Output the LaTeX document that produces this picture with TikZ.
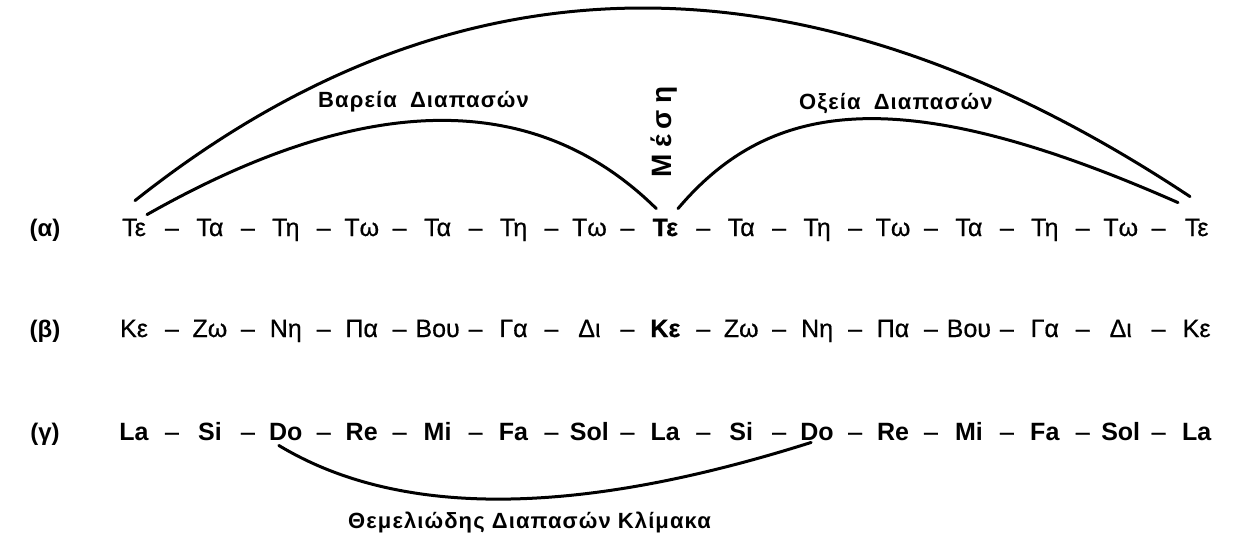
\documentclass[tikz,border=0pt]{standalone}
\usepackage{fontspec}
\setmainfont{Liberation Sans}
\newfontfamily\itemfont{Liberation Sans}[FakeBold=0.6]
\newfontfamily\labfont{Liberation Sans}[LetterSpace=5]
\newfontfamily\mesfont{Liberation Sans}[LetterSpace=22]
\begin{document}
\begin{tikzpicture}[x=1pt,y=-1pt,
  item/.style={anchor=base,inner sep=1pt,font=\fontsize{25}{27}\selectfont\itemfont},
  bitem/.style={item,font=\fontsize{25}{27}\selectfont\bfseries},
  rowlab/.style={anchor=base,inner sep=1pt,font=\fontsize{24}{26}\selectfont\bfseries},
  lab/.style={anchor=base west,inner sep=0pt,font=\fontsize{22}{24}\selectfont\labfont\bfseries},
  arc/.style={line width=3pt,line cap=round}]
\useasboundingbox (0,0) rectangle (1249,540);
% row labels
\node[rowlab] (la) at (45,236) {(α)};
\node[rowlab] (lb) at (45,337) {(β)};
\node[rowlab] (lc) at (45,440) {(γ)};
% row a
\foreach \t [count=\i] in {Τε,Τα,Τη,Τω,Τα,Τη,Τω,{\bfseries Τε},Τα,Τη,Τω,Τα,Τη,Τω,Τε}
  \node[item] (a\i) at ({134+(\i-1)*75.9},236) {\t};
% row b
\foreach \t [count=\i] in {Κε,Ζω,Νη,Πα,Βου,Γα,Δι,{\bfseries Κε},Ζω,Νη,Πα,Βου,Γα,Δι,Κε}
  \node[item] (b\i) at ({134+(\i-1)*75.9},337) {\t};
% row c
\foreach \t [count=\i] in {La,Si,Do,Re,Mi,Fa,Sol,La,Si,Do,Re,Mi,Fa,Sol,La}
  \node[bitem] (c\i) at ({134+(\i-1)*75.9},440) {\t};
% dashes
\foreach \r/\y in {a/236,b/337,c/440}
  \foreach \i in {1,...,14}
    \node[item] (\r d\i) at ({134+(\i-0.5)*75.9},\y) {–};
% labels
\node[lab] (bar) at (318,108) {Βαρεία\hspace{6pt} Διαπασών};
\node[lab] (oxe) at (799,110) {Οξεία\hspace{6pt} Διαπασών};
\node[inner sep=0pt,rotate=90,font=\fontsize{28}{30}\selectfont\mesfont\bfseries] (mes) at (664,132) {Μέση};
\node[lab] (the) at (348,528) {Θεμελιώδης Διαπασών Κλίμακα};
% arcs
\draw[arc] ([xshift=1pt,yshift=17pt]a1.north) .. controls (457,-55) and (809,-56) .. ([xshift=-6.6pt,yshift=21pt]a15.north);
\draw[arc] ([xshift=13pt,yshift=3pt]a1.north) .. controls (365,91) and (535,89) .. ([xshift=-9pt,yshift=9pt]a8.north);
\draw[arc] ([xshift=12.7pt,yshift=9pt]a8.north) .. controls (770,100) and (900,80) .. ([xshift=-18.6pt,yshift=15pt]a15.north);
\draw[arc] ([xshift=-7pt,yshift=-4pt]c3.south) .. controls (399,518) and (576,517) .. ([xshift=-6pt,yshift=-1pt]c10.south);
\end{tikzpicture}
\end{document}
